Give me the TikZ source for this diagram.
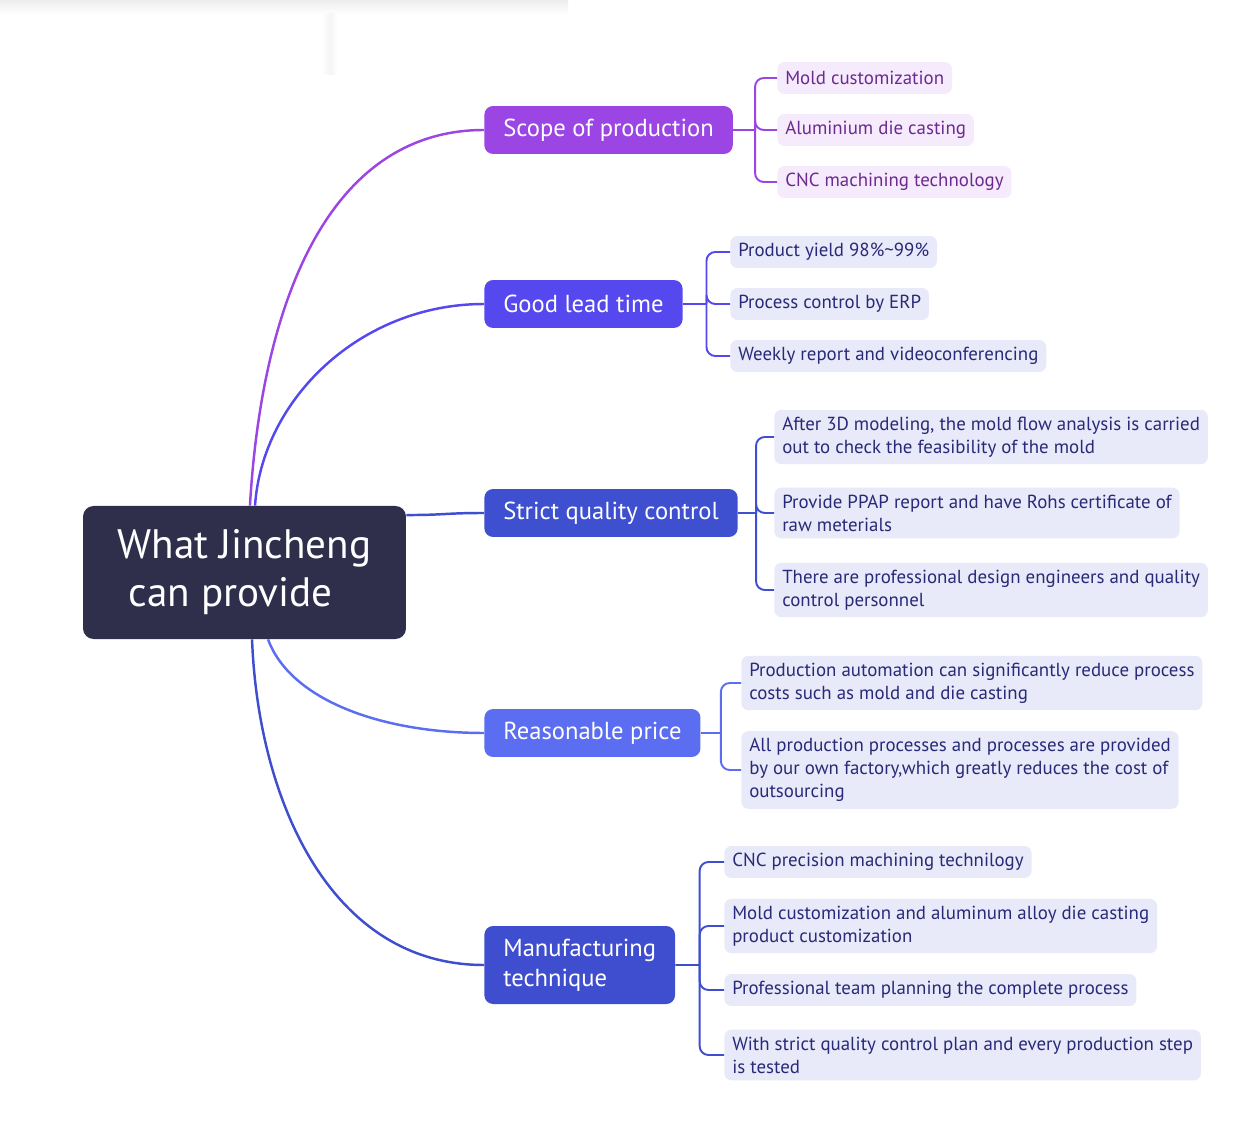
\documentclass[tikz,border=0pt]{standalone}
\usepackage{fontspec}
\setmainfont{PT Sans}
\usepackage{tikz}
\usetikzlibrary{positioning,calc}
\definecolor{rootfill}{RGB}{47,47,76}
\definecolor{cscope}{RGB}{155,69,228}
\definecolor{clead}{RGB}{85,72,238}
\definecolor{cquality}{RGB}{62,79,208}
\definecolor{cprice}{RGB}{91,109,240}
\definecolor{ctech}{RGB}{63,78,206}
\definecolor{leafpurple}{RGB}{245,235,252}
\definecolor{textpurple}{RGB}{108,42,145}
\definecolor{leafblue}{RGB}{233,234,249}
\definecolor{textblue}{RGB}{40,42,120}

\begin{document}
\begin{tikzpicture}[x=0.02cm, y=-0.02cm,
  rootbox/.style={fill=rootfill, text=white, rounded corners=6pt,
    minimum width=183.8pt, minimum height=75.7pt, align=left,
    font=\fontsize{23.4}{27.3}\selectfont},
  topic/.style={fill=#1, text=white, rounded corners=5pt, anchor=west,
    align=left, inner xsep=10.8pt, minimum height=27.3pt,
    font=\fontsize{14}{17}\selectfont},
  item/.style={fill=leafblue, text=textblue, rounded corners=4pt,
    anchor=west, align=left, inner xsep=4.5pt, inner ysep=4pt,
    minimum height=18.2pt, font=\fontsize{10.75}{13.1}\selectfont},
  pitem/.style={item, fill=leafpurple, text=textpurple},
  link/.style={draw=#1, line width=1.4pt},
  bar/.style={draw=#1, line width=1.1pt, rounded corners=5pt}]
  \useasboundingbox (0,0) rectangle (1258,1138);
  % faint screenshot shadow at the top
  \shade[top color=black!7, bottom color=white] (0,0) rectangle (568,14);
  \shade[left color=white, right color=white, middle color=black!4] (322,14) rectangle (338,75);

  % centre
  \node[rootbox] (root) at (244.5,572.5)
    {What Jincheng\\\hspace*{6.3pt}can provide};

  % main topics
  \node[topic=cscope]   (scope)     at (484,130) {Scope of production};
  \node[topic=clead]    (lead)      at (484,304) {Good lead time};
  \node[topic=cquality] (quality)   at (484,513) {Strict quality control};
  \node[topic=cprice]   (price)     at (484,733) {Reasonable price};
  \node[topic=ctech, minimum height=44.4pt]
    (technique) at (484,965) {Manufacturing\\technique};

  \draw[link=cscope] ([xshift=3.1pt]root.north) .. controls +(12,-206) and +(-154,0) .. (scope.west);
  \draw[link=clead] ([xshift=6pt]root.north) .. controls +(7,-106) and +(-124,0) .. (lead.west);
  \draw[link=cquality] ([yshift=32.7pt]root.east) .. controls +(39,0) and +(-39,0) .. (quality.west);
  \draw[link=cprice] ([xshift=13.4pt]root.south) .. controls +(22,60) and +(-104,0) .. (price.west);
  \draw[link=ctech] ([xshift=4.3pt]root.south) .. controls +(6,160) and +(-154,0) .. (technique.west);

  % details
  \node[pitem] (scope1) at (777,78)  {Mold customization};
  \node[pitem] (scope2) at (777,130) {Aluminium die casting};
  \node[pitem] (scope3) at (777,182) {CNC machining technology};

  \node[item] (lead1) at (730,252) {Product yield 98\%\textasciitilde 99\%};
  \node[item] (lead2) at (730,304) {Process control by ERP};
  \node[item] (lead3) at (730,356) {Weekly report and videoconferencing};

  \node[item] (quality1) at (774,437)
    {After 3D modeling, the mold flow analysis is carried\\out to check the feasibility of the mold};
  \node[item] (quality2) at (774,513)
    {Provide PPAP report and have Rohs certificate of\\raw meterials};
  \node[item] (quality3) at (774,590)
    {There are professional design engineers and quality\\control personnel};

  \node[item] (price1) at (741,683)
    {Production automation can significantly reduce process\\costs such as mold and die casting};
  \node[item] (price2) at (741,770)
    {All production processes and processes are provided\\by our own factory,which greatly reduces the cost of\\outsourcing};

  \node[item] (technique1) at (724,862) {CNC precision machining technilogy};
  \node[item] (technique2) at (724,926)
    {Mold customization and aluminum alloy die casting\\product customization};
  \node[item] (technique3) at (724,990) {Professional team planning the complete process};
  \node[item] (technique4) at (724,1055)
    {With strict quality control plan and every production step\\is tested};

  % brackets
  \foreach \t/\c/\n in {scope/cscope/3, lead/clead/3, quality/cquality/3,
                        price/cprice/2, technique/ctech/4} {
    \coordinate (\t j) at ($(\t.east)!0.5!(\t.east -| \t1.west)$);
    \draw[bar=\c] (\t.east) -- (\t j);
    \foreach \k in {1,...,\n}
      \draw[bar=\c] (\t j) |- (\t\k.west);
  }
\end{tikzpicture}
\end{document}
